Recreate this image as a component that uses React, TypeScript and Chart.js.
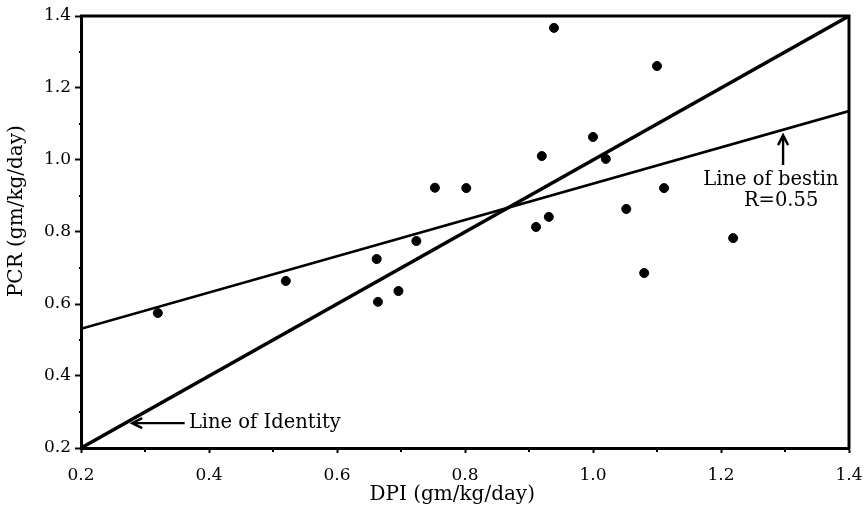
import React, { useEffect, useRef } from "react";
import { Chart, registerables } from "chart.js";

Chart.register(...registerables);

// DPI (x) and PCR (y) observations
const dpiValues = [0.32, 0.52, 0.662, 0.664, 0.696, 0.724, 0.753, 0.802, 0.911, 0.92, 0.931, 0.939, 1.0, 1.02, 1.052, 1.08, 1.1, 1.111, 1.219];
const pcrValues = [0.575, 0.664, 0.725, 0.606, 0.636, 0.775, 0.923, 0.922, 0.814, 1.011, 0.842, 1.367, 1.064, 1.003, 0.864, 0.686, 1.261, 0.922, 0.783];

// Line of identity endpoints
const identityX = [0.2, 1.4];
const identityY = [0.2, 1.4];

// Line of best fit endpoints
const fitX = [0.2, 1.4];
const fitY = [0.531, 1.136];

const xTicks = [0.2, 0.4, 0.6, 0.8, 1.0, 1.2, 1.4];
const yTicks = [0.2, 0.4, 0.6, 0.8, 1.0, 1.2, 1.4];
const minorTicks = [0.3, 0.5, 0.7, 0.9, 1.1, 1.3];

const xTitle = "DPI (gm/kg/day)";
const yTitle = "PCR (gm/kg/day)";

const FONT = "'DejaVu Serif', serif";

const framePlugin = {
  id: "frame",
  afterDraw(chart: any) {
    const { ctx, chartArea, scales } = chart;
    const xs = scales.x;
    const ys = scales.y;
    ctx.save();
    ctx.strokeStyle = "#000";
    ctx.lineWidth = 3;
    ctx.beginPath();
    ctx.moveTo(chartArea.left - 1, chartArea.top);
    ctx.lineTo(chartArea.right, chartArea.top);
    ctx.lineTo(chartArea.right, chartArea.bottom + 1);
    ctx.stroke();

    // minor ticks
    ctx.lineWidth = 2;
    ctx.beginPath();
    minorTicks.forEach((v) => {
      const px = xs.getPixelForValue(v);
      ctx.moveTo(px, chartArea.bottom);
      ctx.lineTo(px, chartArea.bottom + 4);
      const py = ys.getPixelForValue(v);
      ctx.moveTo(chartArea.left - 2, py);
      ctx.lineTo(chartArea.left + 2, py);
    });
    ctx.stroke();

    ctx.fillStyle = "#000";
    ctx.textBaseline = "middle";

    // axis titles
    ctx.font = "20px " + FONT;
    ctx.textAlign = "center";
    ctx.fillText(xTitle, xs.getPixelForValue(0.78), 495);
    ctx.save();
    ctx.translate(17, ys.getPixelForValue(0.858));
    ctx.rotate(-Math.PI / 2);
    ctx.fillText(yTitle, 0, 0);
    ctx.restore();

    // annotations
    ctx.font = "19.5px " + FONT;

    // Line of Identity
    const idTx = xs.getPixelForValue(0.367);
    const idTy = ys.getPixelForValue(0.269);
    ctx.textAlign = "left";
    ctx.fillText("Line of Identity", idTx + 1, idTy);
    const arrowStart = xs.getPixelForValue(0.362);
    const arrowEnd = xs.getPixelForValue(0.28);
    ctx.lineWidth = 2.4;
    ctx.beginPath();
    ctx.moveTo(arrowStart, idTy);
    ctx.lineTo(arrowEnd, idTy);
    ctx.moveTo(arrowEnd + 10, idTy - 5);
    ctx.lineTo(arrowEnd, idTy);
    ctx.lineTo(arrowEnd + 10, idTy + 5);
    ctx.stroke();

    // Line of bestin
    ctx.textAlign = "center";
    ctx.fillText("Line of bestin", xs.getPixelForValue(1.278), ys.getPixelForValue(0.944));
    ctx.fillText("R=0.55", xs.getPixelForValue(1.294), ys.getPixelForValue(0.886));
    const ax = xs.getPixelForValue(1.297);
    const ay0 = ys.getPixelForValue(0.986);
    const ay1 = ys.getPixelForValue(1.069);
    ctx.beginPath();
    ctx.moveTo(ax, ay0);
    ctx.lineTo(ax, ay1);
    ctx.moveTo(ax - 5, ay1 + 10);
    ctx.lineTo(ax, ay1);
    ctx.lineTo(ax + 5, ay1 + 10);
    ctx.stroke();
    ctx.restore();
  },
};

export default function App() {
  const ref = useRef<HTMLCanvasElement>(null);
  useEffect(() => {
    if (!ref.current) return;
    const chart = new Chart(ref.current, {
      type: "scatter",
      data: {
        datasets: [
          {
            label: "Observations",
            data: dpiValues.map((x, i) => ({ x, y: pcrValues[i] })),
            backgroundColor: "#000",
            borderColor: "#000",
            pointRadius: 4.5,
            showLine: false,
          },
          {
            label: "Line of Identity",
            data: identityX.map((x, i) => ({ x, y: identityY[i] })),
            showLine: true,
            borderColor: "#000",
            borderWidth: 3.5,
            pointRadius: 0,
          },
          {
            label: "Line of best fit",
            data: fitX.map((x, i) => ({ x, y: fitY[i] })),
            showLine: true,
            borderColor: "#000",
            borderWidth: 2.6,
            pointRadius: 0,
          },
        ],
      },
      options: {
        animation: false,
        responsive: false,
        maintainAspectRatio: false,
        layout: { padding: { left: 0, top: 16, right: 17, bottom: 0 } },
        plugins: { legend: { display: false }, tooltip: { enabled: false } },
        scales: {
          x: {
            type: "linear",
            min: 0.2,
            max: 1.4,
            afterFit: (s: any) => {
              s.height = 62;
              s.paddingLeft = 0;
              s.paddingRight = 0;
            },
            afterBuildTicks: (s: any) => {
              s.ticks = xTicks.map((v) => ({ value: v }));
            },
            ticks: {
              color: "#000",
              font: { family: FONT, size: 17 },
              padding: 12,
              maxRotation: 0,
              callback: (v: any) => Number(v).toFixed(1),
            },
            grid: {
              drawOnChartArea: false,
              drawTicks: true,
              tickLength: 5,
              tickWidth: 2,
              tickColor: "#000",
            },
            border: { color: "#000", width: 3 },
            title: { display: false },
          },
          y: {
            type: "linear",
            min: 0.2,
            max: 1.4,
            afterFit: (s: any) => {
              s.width = 81;
              s.paddingTop = 0;
              s.paddingBottom = 0;
            },
            afterBuildTicks: (s: any) => {
              s.ticks = yTicks.map((v) => ({ value: v }));
            },
            ticks: {
              color: "#000",
              font: { family: FONT, size: 17 },
              padding: 4,
              callback: (v: any) => Number(v).toFixed(1),
            },
            grid: {
              drawOnChartArea: false,
              drawTicks: true,
              tickLength: 6,
              tickWidth: 2,
              tickColor: "#000",
            },
            border: { color: "#000", width: 3 },
            title: { display: false },
          },
        },
      },
      plugins: [framePlugin],
    });
    return () => chart.destroy();
  }, []);
  return (
    <div style={{ position: "fixed", left: 0, top: 0, width: 866, height: 510, background: "#fff" }}>
      <canvas ref={ref} width={866} height={510} style={{ width: 866, height: 510, display: "block" }} />
    </div>
  );
}
